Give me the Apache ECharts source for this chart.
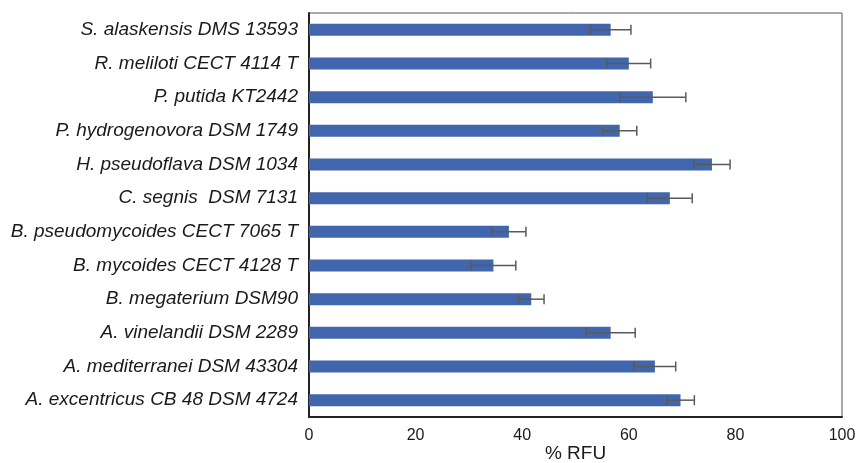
<!DOCTYPE html>
<html><head><meta charset="utf-8">
<script src="https://cdn.jsdelivr.net/npm/echarts@6/dist/echarts.min.js"></script>
<style>html,body{margin:0;padding:0;background:#fff}#c{width:856px;height:463px}</style>
</head><body><div id="c"></div>
<script>
var categories = ["S. alaskensis DMS 13593","R. meliloti CECT 4114 T","P. putida KT2442","P. hydrogenovora DSM 1749","H. pseudoflava DSM 1034","C. segnis  DSM 7131","B. pseudomycoides CECT 7065 T","B. mycoides CECT 4128 T","B. megaterium DSM90","A. vinelandii DSM 2289","A. mediterranei DSM 43304","A. excentricus CB 48 DSM 4724"];
var values = [56.6, 60.0, 64.5, 58.3, 75.6, 67.7, 37.5, 34.6, 41.7, 56.6, 64.9, 69.7];
var errors = [3.8, 4.1, 6.2, 3.2, 3.4, 4.2, 3.2, 4.2, 2.4, 4.6, 3.9, 2.6];
var xTicks = [0, 20, 40, 60, 80, 100];

var errData = values.map(function(v, i){ return [i, v - errors[i], v + errors[i]]; });
var chart = echarts.init(document.getElementById('c'));
chart.setOption({
  animation: false,
  grid: {left: 309, right: 14, top: 13, bottom: 46, show: true, borderColor: '#555', borderWidth: 1, outerBoundsMode: 'none', containLabel: false},
  xAxis: {type: 'value', min: xTicks[0], max: xTicks[xTicks.length-1], interval: 20,
    name: '% RFU', nameLocation: 'middle', nameGap: 27, nameMoveOverlap: false,
    nameTextStyle: {fontFamily: 'Liberation Sans', fontSize: 19, color: '#1a1a1a', verticalAlign: 'top'},
    axisLine: {show: true, lineStyle: {color: '#222', width: 2}},
    axisTick: {show: false}, splitLine: {show: false},
    axisLabel: {fontFamily: 'Liberation Sans', fontSize: 16, color: '#1a1a1a', margin: 11}},
  yAxis: {type: 'category', data: categories, inverse: true,
    axisLine: {show: true, lineStyle: {color: '#222', width: 2}},
    axisTick: {show: false},
    axisLabel: {fontFamily: 'Liberation Sans', fontStyle: 'italic', fontSize: 19, color: '#1a1a1a', margin: 11}},
  series: [
    {type: 'bar', data: values, barWidth: 12, itemStyle: {color: '#4166ad'}},
    {type: 'custom', data: errData, z: 5,
     renderItem: function(params, api){
       var y = api.value(0);
       var p1 = api.coord([api.value(1), y]);
       var p2 = api.coord([api.value(2), y]);
       var h = 5;
       var st = {stroke: '#5a5a5a', lineWidth: 1.5};
       return {type: 'group', children: [
         {type: 'line', shape: {x1: p1[0], y1: p1[1], x2: p2[0], y2: p2[1]}, style: st},
         {type: 'line', shape: {x1: p1[0], y1: p1[1]-h, x2: p1[0], y2: p1[1]+h}, style: st},
         {type: 'line', shape: {x1: p2[0], y1: p2[1]-h, x2: p2[0], y2: p2[1]+h}, style: st}
       ]};
     }}
  ]
});
</script></body></html>
